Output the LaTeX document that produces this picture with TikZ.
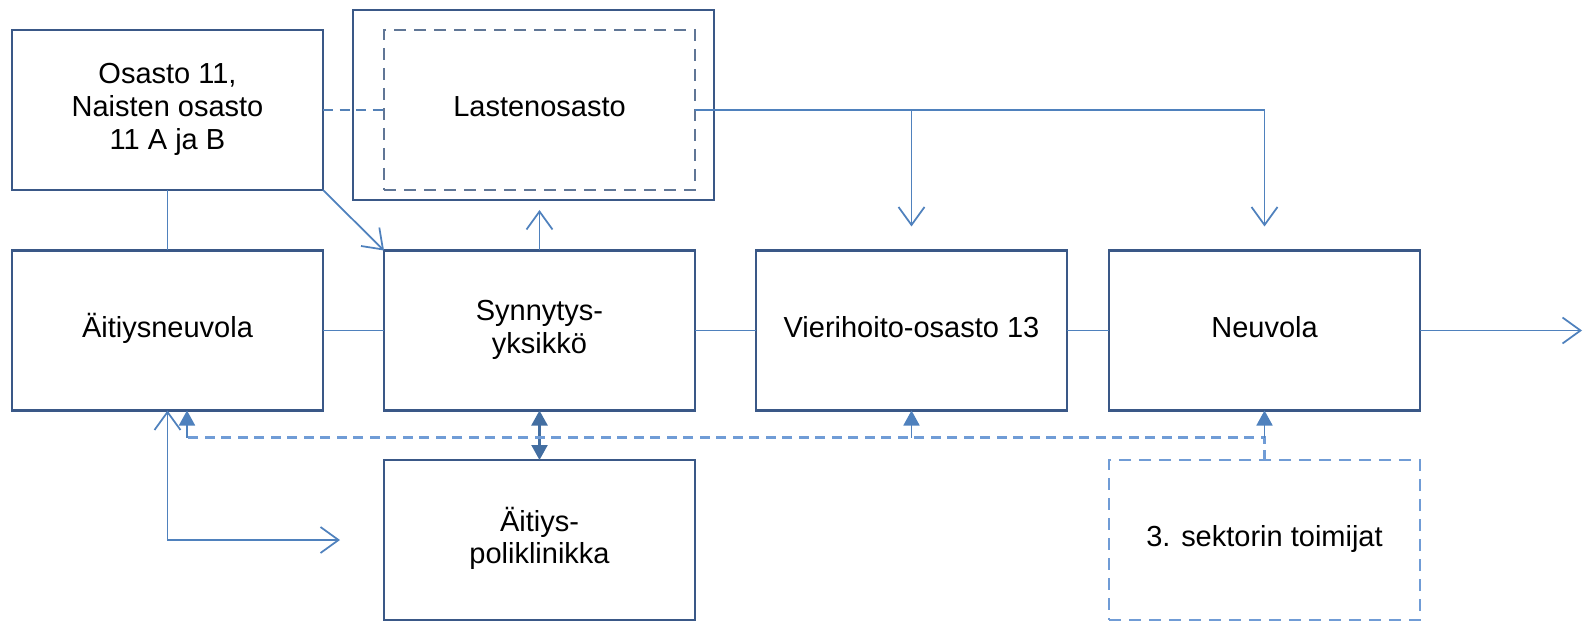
\documentclass[tikz,border=0pt]{standalone}
\usepackage{fontspec}
\setmainfont{Liberation Sans}
\usetikzlibrary{arrows.meta}
\definecolor{boxcolor}{RGB}{58,88,135}
\definecolor{linecolor}{RGB}{79,129,189}
\definecolor{dashcolor}{RGB}{112,156,214}
\definecolor{innercolor}{RGB}{96,118,150}

\begin{document}
\begin{tikzpicture}[
	laatikko/.style={draw=boxcolor, line width=0.5mm, minimum width=62.2mm,
		minimum height=32mm, inner sep=0pt},
	katkolaatikko/.style={laatikko, dash pattern=on 2.4mm off 1.6mm},
	yhteys/.style={draw=linecolor, line width=0.35mm},
	katkoviiva/.style={yhteys, draw=dashcolor, line width=0.45mm,
		dash pattern=on 2mm off 1.3mm},
	tayte/.style={yhteys, -{Triangle[length=3mm, width=3.2mm]}},
	kaksi/.style={yhteys, draw=linecolor!85!black, line width=0.45mm,
		{Triangle[length=3mm, width=3.2mm]}-{Triangle[length=3mm, width=3.2mm]}},
	>={Straight Barb[length=3.6mm, width=5.2mm]},
	node distance=74.4mm,
	every node/.style={outer sep=0pt, font=\fontsize{16.5}{18.5}\selectfont},
]
\useasboundingbox (-33.5mm,-58.3mm) rectangle (283.5mm,66.1mm);
% Input: [placement](name){text, lines split by \\}.
\def\yksikko[#1](#2)#3{
	\node[laatikko, #1](#2){\begin{tabular}{c}#3\end{tabular}};
}
\def\katkoyksikko[#1](#2)#3{
	\node[katkolaatikko, #1](#2){\begin{tabular}{c}#3\end{tabular}};
}
% \ylos{x from}{box}: filled arrow from the dashed line up to the box.
\def\ylos#1#2{
	\draw[tayte] (#1 |- katko) -- (#2);
}
	\yksikko[](ANeu){Äitiysneuvola}
	\yksikko[right of=ANeu](Synn){Synnytys-\\yksikkö}
	\yksikko[right of=Synn](Vieri){Vierihoito-osasto 13}
	\yksikko[right of=Vieri, xshift=-3.8mm](Neuv){Neuvola}
	\yksikko[above of=ANeu, yshift=-30.3mm](Osasto){Osasto 11,\\
		Naisten osasto\\11 A ja B}
	\yksikko[below of=Synn, yshift=32.5mm](Polik){Äitiys-\\poliklinikka}
	\katkoyksikko[above of=Synn, yshift=-30.3mm, draw=innercolor,
		line width=0.4mm](LastIn){Lastenosasto}
	\node[laatikko, minimum width=72.2mm, minimum height=38mm,
		xshift=-1.2mm, yshift=1mm] at (LastIn) (LastOut) {};
	\katkoyksikko[below of=Neuv, yshift=32.5mm, draw=dashcolor](Sektor)
		{3. sektorin toimijat}

	\path (Polik.west) ++(-8.8mm,0) coordinate (polikVasen);
	\path (ANeu.south) ++(3.9mm,-5.4mm) coordinate (katko);
	\path (Neuv.east) ++(32.4mm,0) coordinate (ulos);

	\draw[yhteys] (Osasto.south) -- (ANeu.north);
	\draw[yhteys, ->] (Osasto.south east) -- (Synn.north west);
	\draw[yhteys, ->, shorten >=2mm] (Synn.north) -- (Synn.north |- LastOut.south);
	\draw[katkoviiva, draw=linecolor!90!gray] (Osasto.east) -- (LastIn.west);
	\draw[yhteys, ->, shorten >=4.8mm] (LastIn.east) -| (Neuv.north);
	\draw[yhteys, ->, shorten >=4.8mm] (Vieri.north |- LastIn.east)
		-- (Vieri.north);
	\draw[yhteys] (ANeu.east) -- (Synn.west);
	\draw[yhteys] (Synn.east) -- (Vieri.west);
	\draw[yhteys] (Vieri.east) -- (Neuv.west);
	\draw[yhteys, ->] (Neuv.east) -- (ulos);
	\draw[yhteys, <->] (ANeu.south) |- (polikVasen);
	\draw[kaksi] (Synn.south) -- (Polik.north);

	\draw[katkoviiva] (Sektor.north) |- (katko);
	\draw[tayte] (katko) -- (katko |- ANeu.south);
	\ylos{Vieri.south}{Vieri.south}
	\ylos{Neuv.south}{Neuv.south}
\end{tikzpicture}
\end{document}
